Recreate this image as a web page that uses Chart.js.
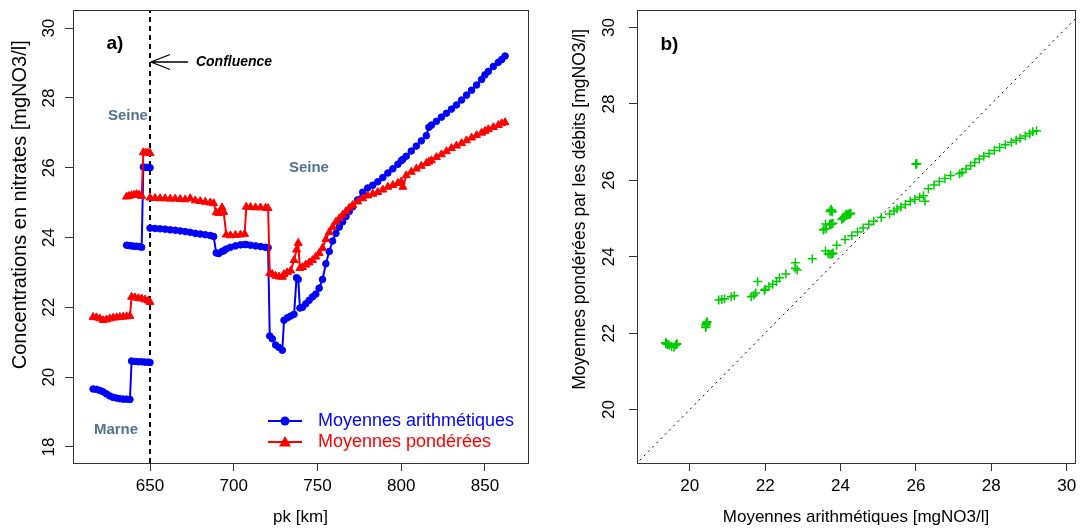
<!DOCTYPE html>
<html>
<head>
<meta charset="utf-8">
<script src="https://cdn.jsdelivr.net/npm/chart.js@4.4.1/dist/chart.umd.min.js"></script>
<style>
  body { margin: 0; background: #fff; }
  #wrap { position: relative; width: 1081px; height: 529px; overflow: hidden; }
  canvas { position: absolute; top: 0; }
</style>
</head>
<body>
<div id="wrap">
  <canvas id="profil" width="560" height="529" style="left:0"></canvas>
  <canvas id="compar" width="521" height="529" style="left:560px"></canvas>
</div>
<script>
// Marne, upstream of the confluence
const pkMarne    = [616, 618, 620, 622, 624, 626, 628, 630, 632, 634, 636, 638, 639, 641, 643, 645, 647, 649, 650];
const arithMarne = [19.66, 19.65, 19.62, 19.58, 19.52, 19.46, 19.42, 19.40, 19.38, 19.37, 19.37, 19.36, 20.46, 20.45, 20.44, 20.44, 20.43, 20.43, 20.42];
const pondMarne  = [21.72, 21.71, 21.68, 21.63, 21.65, 21.68, 21.70, 21.71, 21.72, 21.73, 21.74, 21.75, 22.30, 22.28, 22.26, 22.25, 22.22, 22.19, 22.15];

// Seine, upstream of the confluence
const pkAmont    = [636, 637.5, 639, 640.5, 642, 643.5, 645, 646, 647.5, 649, 650];
const arithAmont = [23.78, 23.77, 23.76, 23.75, 23.75, 23.74, 23.72, 26.02, 26.01, 26.01, 26.00];
const pondAmont  = [25.17, 25.19, 25.21, 25.22, 25.24, 25.22, 25.19, 26.44, 26.43, 26.43, 26.42];

// Seine, downstream of the confluence
const pkAval = [650, 653, 656, 659, 662, 665, 668, 671, 674, 677, 680, 683, 686, 688, 689.5, 691, 693, 694, 695.5, 698,
  701, 704, 706.5, 707.5, 710, 713, 716, 719, 720.5, 721.5, 723, 725, 727, 729, 730, 732, 734, 736, 737.5, 738.5,
  739.5, 741, 743, 745, 747, 749, 751, 753, 755, 757, 759, 761, 763, 765, 767, 769, 771, 774, 777, 780,
  783, 786, 789, 792, 795, 798, 800, 801, 803, 806, 809, 812, 815, 816.5, 818, 821, 824, 827, 830, 833,
  836, 839, 842, 845, 848, 850, 852, 855, 858, 860, 862];
const arithAval = [24.27, 24.26, 24.25, 24.24, 24.22, 24.21, 24.19, 24.17, 24.15, 24.12, 24.10, 24.08, 24.06, 24.03, 23.56, 23.54, 23.60, 23.62, 23.67, 23.72,
  23.76, 23.79, 23.80, 23.80, 23.78, 23.76, 23.74, 23.72, 23.71, 21.18, 21.10, 20.92, 20.85, 20.77, 21.63, 21.70, 21.75, 21.80, 22.85, 22.80,
  21.98, 22.00, 22.10, 22.20, 22.30, 22.38, 22.55, 22.80, 23.25, 23.60, 23.90, 24.12, 24.30, 24.45, 24.60, 24.75, 24.88, 25.08, 25.30, 25.42,
  25.50, 25.60, 25.72, 25.85, 25.97, 26.10, 26.20, 26.24, 26.33, 26.48, 26.62, 26.77, 26.92, 27.16, 27.22, 27.33, 27.45, 27.56, 27.68, 27.80,
  27.94, 28.08, 28.22, 28.37, 28.53, 28.66, 28.76, 28.90, 29.02, 29.10, 29.20];
const pondAval = [25.14, 25.13, 25.12, 25.12, 25.11, 25.11, 25.10, 25.09, 25.12, 25.06, 25.04, 25.02, 25.00, 24.98, 24.72, 24.70, 24.86, 24.73, 24.08, 24.06,
  24.07, 24.08, 24.10, 24.88, 24.87, 24.86, 24.86, 24.85, 24.84, 22.98, 22.95, 22.90, 22.88, 22.87, 22.95, 23.00, 23.05, 23.35, 23.65, 23.84,
  23.12, 23.15, 23.22, 23.28, 23.35, 23.45, 23.55, 23.70, 23.95, 24.15, 24.30, 24.45, 24.55, 24.65, 24.75, 24.85, 24.93, 25.03, 25.12, 25.20,
  25.25, 25.30, 25.37, 25.45, 25.50, 25.56, 25.60, 25.45, 25.78, 25.88, 25.97, 26.05, 26.13, 26.17, 26.21, 26.30, 26.38, 26.47, 26.56, 26.63,
  26.70, 26.78, 26.86, 26.93, 27.00, 27.05, 27.10, 27.16, 27.22, 27.27, 27.30];

const seriesNames = ['Moyennes arithmétiques', 'Moyennes pondérées'];
const pkTicks   = [650, 700, 750, 800, 850];
const concTicks = [18, 20, 22, 24, 26, 28, 30];
const moyTicks  = [20, 22, 24, 26, 28, 30];
const confluencePk = 650;

const segments = [
  [pkMarne, arithMarne, pondMarne],
  [pkAmont, arithAmont, pondAmont],
  [pkAval, arithAval, pondAval]
];

// one line per reach, broken by a null point between reaches
function serie(col) {
  const out = [];
  segments.forEach((seg, k) => {
    if (k) out.push({ x: seg[0][0], y: null });
    seg[0].forEach((p, i) => out.push({ x: p, y: seg[col][i] }));
  });
  return out;
}
const paires = [];
segments.forEach(seg => seg[1].forEach((v, i) => paires.push({ x: v, y: seg[2][i] })));

const FONT = "'Liberation Sans', Arial, Helvetica, sans-serif";
Chart.defaults.font.family = FONT;
Chart.defaults.color = '#000';
const axisColor = '#333';
const BLUE = '#0000ff', RED = '#ff0000', GREEN = '#00cd00', LABEL = '#56718c';

function fixedAxis(size) {
  return s => {
    if (s.isHorizontal()) s.height = size; else s.width = size;
    s.paddingLeft = s.paddingRight = s.paddingTop = s.paddingBottom = 0;
  };
}
function setTicks(values) {
  return s => { s.ticks = values.map(v => ({ value: v })); };
}
function axis(opts) {
  return Object.assign({
    type: 'linear',
    border: { display: false },
    grid: { drawOnChartArea: false, drawTicks: true, tickLength: 8, color: axisColor, lineWidth: 1 },
  }, opts);
}

// box around the plotting region
const cadre = {
  id: 'cadre',
  afterDraw(chart) {
    const { ctx, chartArea: a } = chart;
    ctx.save();
    ctx.strokeStyle = axisColor;
    ctx.lineWidth = 1;
    ctx.strokeRect(Math.round(a.left) + 0.5, Math.round(a.top) + 0.5, Math.round(a.width), Math.round(a.height));
    ctx.restore();
  }
};

// vertical axis title, set a little above the middle of the frame
const titreY = {
  id: 'titreY',
  afterDraw(chart, args, opts) {
    const { ctx, chartArea: a } = chart;
    ctx.save();
    ctx.translate(opts.x, a.top + opts.at * a.height);
    ctx.rotate(-Math.PI / 2);
    ctx.font = opts.size + 'px ' + FONT;
    ctx.fillStyle = '#000';
    ctx.textAlign = 'center';
    ctx.textBaseline = 'middle';
    ctx.fillText(opts.text, 0, 0);
    ctx.restore();
  }
};

const reperes = {
  id: 'reperes',
  afterDraw(chart) {
    const { ctx, scales: { x, y } } = chart;
    ctx.save();
    ctx.fillStyle = '#000';
    ctx.textBaseline = 'middle';
    ctx.textAlign = 'center';
    ctx.font = 'bold 19px ' + FONT;
    ctx.fillText('a)', x.getPixelForValue(629), y.getPixelForValue(29.54));

    const yc = y.getPixelForValue(29.03);
    const x0 = x.getPixelForValue(confluencePk), x1 = x.getPixelForValue(672.7);
    ctx.strokeStyle = '#000';
    ctx.lineWidth = 1.3;
    ctx.beginPath();
    ctx.moveTo(x1, yc); ctx.lineTo(x0 + 1, yc);
    ctx.moveTo(x0 + 20, yc - 7.5); ctx.lineTo(x0 + 1, yc); ctx.lineTo(x0 + 20, yc + 7.5);
    ctx.stroke();
    ctx.textAlign = 'left';
    ctx.font = 'italic bold 14px ' + FONT;
    ctx.fillText('Confluence', x.getPixelForValue(677.4), yc);

    ctx.fillStyle = LABEL;
    ctx.textAlign = 'center';
    ctx.font = 'bold 15px ' + FONT;
    ctx.fillText('Seine', x.getPixelForValue(636.8), y.getPixelForValue(27.5));
    ctx.fillText('Seine', x.getPixelForValue(744.9), y.getPixelForValue(26.0));
    ctx.fillText('Marne', x.getPixelForValue(629.7), y.getPixelForValue(18.48));
    ctx.restore();
  }
};

const legende = {
  id: 'legende',
  afterDraw(chart) {
    const { ctx, chartArea: a } = chart;
    const sets = chart.data.datasets.filter(d => seriesNames.includes(d.label));
    ctx.save();
    ctx.font = '18px ' + FONT;
    ctx.textBaseline = 'middle';
    sets.forEach((d, i) => {
      const yy = a.bottom - 42 + i * 21;
      const xm = a.right - 243;
      ctx.strokeStyle = d.borderColor;
      ctx.fillStyle = d.borderColor;
      ctx.lineWidth = 2;
      ctx.beginPath(); ctx.moveTo(a.right - 260, yy); ctx.lineTo(a.right - 226, yy); ctx.stroke();
      ctx.beginPath();
      if (d.pointStyle === 'triangle') {
        ctx.moveTo(xm, yy - 6); ctx.lineTo(xm + 6, yy + 4.5); ctx.lineTo(xm - 6, yy + 4.5); ctx.closePath();
      } else {
        ctx.arc(xm, yy, 4.5, 0, Math.PI * 2);
      }
      ctx.fill();
      ctx.fillText(d.label, a.right - 210, yy);
    });
    ctx.restore();
  }
};

new Chart(document.getElementById('profil'), {
  type: 'line',
  data: {
    datasets: [
      { label: 'confluence', data: [{ x: confluencePk, y: 17.54 }, { x: confluencePk, y: 30.52 }],
        borderColor: '#000', borderWidth: 2, borderDash: [5, 4], pointRadius: 0, order: 3 },
      { label: seriesNames[0], data: serie(1), borderColor: BLUE, backgroundColor: BLUE,
        borderWidth: 2, pointStyle: 'circle', pointRadius: 3.3, pointBorderWidth: 1, order: 2 },
      { label: seriesNames[1], data: serie(2), borderColor: RED, backgroundColor: RED,
        borderWidth: 2, pointStyle: 'triangle', pointRadius: 4.6, pointBorderWidth: 1, order: 1 }
    ]
  },
  options: {
    responsive: false, animation: false, devicePixelRatio: 1,
    layout: { padding: { top: 10, right: 32, left: 0, bottom: 0 } },
    plugins: {
      legend: { display: false }, tooltip: { enabled: false },
      titreY: { text: 'Concentrations en nitrates [mgNO3/l]', size: 20, x: 20, at: 0.43 }
    },
    scales: {
      x: axis({
        min: 604, max: 875.7,
        afterBuildTicks: setTicks(pkTicks), afterFit: fixedAxis(66),
        ticks: { font: { size: 17 }, maxRotation: 0, padding: 5 },
        title: { display: true, text: 'pk [km]', font: { size: 17 }, padding: { top: 0, bottom: 1 } }
      }),
      y: axis({
        min: 17.54, max: 30.52,
        afterBuildTicks: setTicks(concTicks), afterFit: fixedAxis(73),
        ticks: { font: { size: 17 }, minRotation: 90, maxRotation: 90, crossAlign: 'center', padding: 6 }
      })
    }
  },
  plugins: [cadre, titreY, reperes, legende]
});

const tag = {
  id: 'tag',
  afterDraw(chart) {
    const { ctx, scales: { x, y } } = chart;
    ctx.save();
    ctx.font = 'bold 19px ' + FONT;
    ctx.textAlign = 'center';
    ctx.textBaseline = 'middle';
    ctx.fillStyle = '#000';
    ctx.fillText('b)', x.getPixelForValue(19.46), y.getPixelForValue(29.54));
    ctx.restore();
  }
};

new Chart(document.getElementById('compar'), {
  type: 'scatter',
  data: {
    datasets: [
      { label: 'paires', data: paires, pointStyle: 'cross', pointRadius: 4.5,
        pointBorderColor: GREEN, pointBackgroundColor: GREEN, pointBorderWidth: 1.5, borderColor: GREEN },
      { label: '1:1', data: [{ x: 18, y: 18 }, { x: 31, y: 31 }], showLine: true,
        borderColor: '#000', borderWidth: 1, borderDash: [2, 4], pointRadius: 0 }
    ]
  },
  options: {
    responsive: false, animation: false, devicePixelRatio: 1,
    layout: { padding: { top: 10, right: 0, left: 0, bottom: 0 } },
    plugins: {
      legend: { display: false }, tooltip: { enabled: false },
      titreY: { text: 'Moyennes pondérées par les débits [mgNO3/l]', size: 17.5, x: 20, at: 0.44 }
    },
    scales: {
      x: axis({
        min: 18.6, max: 30.22,
        afterBuildTicks: setTicks(moyTicks), afterFit: fixedAxis(66),
        ticks: { font: { size: 17 }, maxRotation: 0, padding: 5 },
        title: { display: true, text: 'Moyennes arithmétiques [mgNO3/l]', font: { size: 17 }, padding: { top: 0, bottom: 1 } }
      }),
      y: axis({
        min: 18.6, max: 30.46,
        afterBuildTicks: setTicks(moyTicks), afterFit: fixedAxis(77),
        ticks: { font: { size: 17 }, minRotation: 90, maxRotation: 90, crossAlign: 'center', padding: 10 }
      })
    }
  },
  plugins: [cadre, titreY, tag]
});
</script>
</body>
</html>
